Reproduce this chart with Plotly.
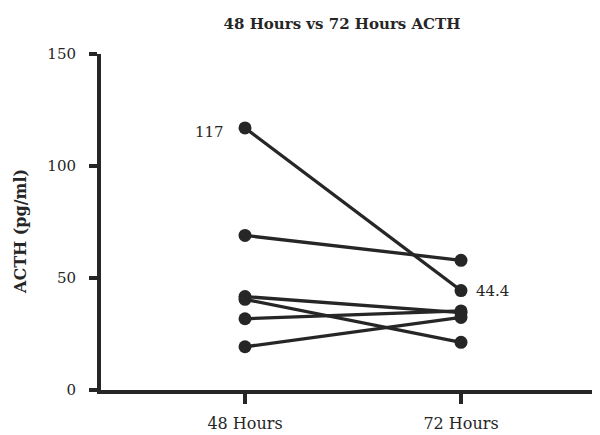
import plotly.graph_objects as go

categories = ["48 Hours", "72 Hours"]
acth_48h = [117, 69, 41.7, 40.5, 31.8, 19.3]
acth_72h = [44.4, 57.9, 34.5, 21.3, 35.3, 32.4]
y_ticks = [0, 50, 100, 150]
title = "48 Hours vs 72 Hours ACTH"
y_title = "ACTH (pg/ml)"

INK = "#262626"
FONT = "DejaVu Serif"

# the page body has an 8px default margin; positions below are in figure coords
OFF = 8

fig = go.Figure()
for a, b in zip(acth_48h, acth_72h):
    fig.add_trace(go.Scatter(
        x=categories, y=[a, b], mode="lines+markers",
        line=dict(color=INK, width=3.3),
        marker=dict(color=INK, size=13),
        showlegend=False, hoverinfo="skip",
    ))

# value labels
fig.add_annotation(x=categories[0], y=acth_48h[0], text=str(acth_48h[0]),
                   showarrow=False, xanchor="right", xshift=-19, yshift=-4,
                   font=dict(family=FONT, size=15, color=INK))
fig.add_annotation(x=categories[1], y=acth_72h[0], text=str(acth_72h[0]),
                   showarrow=False, xanchor="left", xshift=13,
                   font=dict(family=FONT, size=15, color=INK))

W, H = 600, 435
L = 101 - OFF
T = 54 - OFF
B = H - (390 - OFF)
R = 0
pw = W - L - R
ph = H - T - B
px_per_cat = 216.0
x0 = -(245 - 101) / px_per_cat
x1 = x0 + pw / px_per_cat

fig.add_annotation(xref="paper", yref="paper",
                   x=(20 - 101) / pw, y=(390 - 232) / ph,
                   text="<b>" + y_title + "</b>", textangle=-90,
                   showarrow=False, xanchor="center", yanchor="middle",
                   font=dict(family=FONT, size=16, color=INK))

fig.update_layout(
    width=W, height=H,
    margin=dict(l=L, r=R, t=T, b=B, autoexpand=False),
    paper_bgcolor="white", plot_bgcolor="white",
    title=dict(text="<b>" + title + "</b>", x=(342 - OFF) / W, xanchor="center",
               xref="container", yref="container", y=1 - (24 - OFF) / H, yanchor="middle",
               font=dict(family=FONT, size=15, color=INK)),
    xaxis=dict(type="category", range=[x0, x1], showgrid=False, zeroline=False,
               automargin=False,
               showline=True, linecolor=INK, linewidth=4,
               ticks="outside", ticklen=10, tickwidth=4, tickcolor=INK,
               ticklabelstandoff=6,
               tickfont=dict(family=FONT, size=16, color=INK)),
    yaxis=dict(range=[0, 150], tickvals=y_ticks, showgrid=False, zeroline=False,
               automargin=False,
               showline=True, linecolor=INK, linewidth=4,
               ticks="outside", ticklen=8, tickwidth=4, tickcolor=INK,
               ticklabelstandoff=10,
               tickfont=dict(family=FONT, size=15, color=INK)),
)

fig.write_html("out.html")
